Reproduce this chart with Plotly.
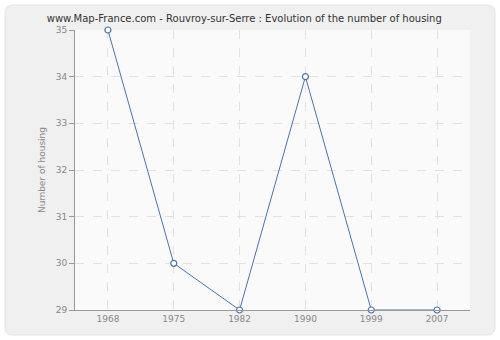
import plotly.graph_objects as go

years = ["1968", "1975", "1982", "1990", "1999", "2007"]
housing = [35, 30, 29, 34, 29, 29]
y_ticks = [29, 30, 31, 32, 33, 34, 35]

W, H = 500, 340
ml, mr, mt, mb = 75, 30, 30, 30
pw, ph = W - ml - mr, H - mt - mb

def px(x):
    return (x - ml) / pw

def py(y):
    return (H - mb - y) / ph

fig = go.Figure()
fig.add_trace(go.Scatter(
    x=years, y=housing, mode="lines+markers",
    line=dict(color="#4a74a8", width=1),
    marker=dict(symbol="circle", size=6, color="white",
                line=dict(color="#4a74a8", width=1.2)),
    cliponaxis=False, showlegend=False,
))

# rounded panel
x0, x1, y0, y1, r = 5, 495, 5, 335, 8
path = (f"M {px(x0+r)},{py(y0)} L {px(x1-r)},{py(y0)} "
        f"Q {px(x1)},{py(y0)} {px(x1)},{py(y0+r)} L {px(x1)},{py(y1-r)} "
        f"Q {px(x1)},{py(y1)} {px(x1-r)},{py(y1)} L {px(x0+r)},{py(y1)} "
        f"Q {px(x0)},{py(y1)} {px(x0)},{py(y1-r)} L {px(x0)},{py(y0+r)} "
        f"Q {px(x0)},{py(y0)} {px(x0+r)},{py(y0)} Z")
fig.add_shape(type="path", path=path, xref="paper", yref="paper",
              fillcolor="#f0f0f0", line=dict(color="#e4e4e4", width=1),
              layer="below")
fig.add_shape(type="rect", x0=0, x1=1, y0=0, y1=1, xref="paper", yref="paper",
              fillcolor="#fafafa", line=dict(width=0), layer="below")

fig.update_layout(
    width=W, height=H,
    margin=dict(l=ml, r=mr, t=mt, b=mb),
    paper_bgcolor="white", plot_bgcolor="#fafafa",
    font=dict(family="DejaVu Sans", size=9, color="#888"),
    title=dict(text="www.Map-France.com - Rouvroy-sur-Serre : Evolution of the number of housing",
               x=px(268), xanchor="center", y=1 - 18 / H, yanchor="middle",
               font=dict(size=10, color="#333")),
    xaxis=dict(type="category", range=[-0.5, 5.5], showgrid=True,
               gridcolor="#e2e2e2", griddash="dash", gridwidth=1,
               showline=True, linecolor="#999", linewidth=1,
               ticks="", tickfont=dict(size=9, color="#888"), zeroline=False),
    yaxis=dict(range=[29, 35], tickvals=y_ticks, showgrid=True,
               gridcolor="#e2e2e2", griddash="dash", gridwidth=1,
               showline=True, linecolor="#999", linewidth=1,
               ticks="outside", ticklen=5, tickcolor="#999",
               tickfont=dict(size=9, color="#888"), zeroline=False,
               title=dict(text="Number of housing", font=dict(size=9, color="#888"), standoff=8)),
)

fig.write_html("out.html")
